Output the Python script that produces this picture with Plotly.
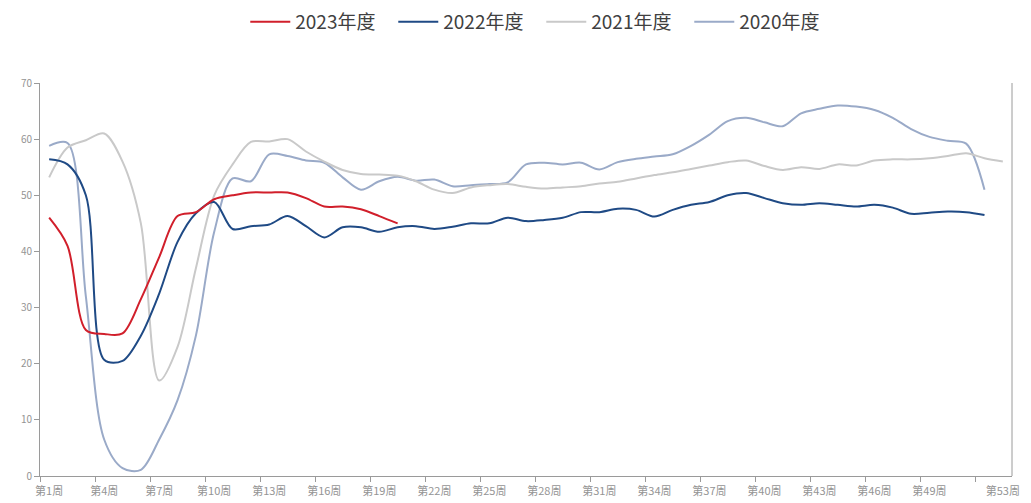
import plotly.graph_objects as go

# Weekly series, weeks 1..53
weeks = list(range(1, 54))

y2023 = [46.0, 41.0, 26.0, 25.3, 25.4, 31.5, 39.0, 46.3, 47.0, 49.3,
         50.0, 50.5, 50.5, 50.5, 49.5, 48.0, 48.0, 47.5, 46.3, 45.0]

y2022 = [56.4, 55.5, 50.0, 20.7, 20.5, 25.0, 32.5, 41.7, 46.8, 48.8,
         44.0, 44.5, 44.8, 46.3, 44.5, 42.5, 44.3, 44.3, 43.5, 44.3,
         44.5, 44.0, 44.4, 45.0, 45.0, 46.0, 45.4, 45.6, 46.0, 47.0,
         47.0, 47.6, 47.4, 46.2, 47.4, 48.3, 48.8, 50.0, 50.4, 49.5,
         48.6, 48.3, 48.6, 48.3, 48.0, 48.3, 47.8, 46.7, 46.9, 47.1,
         47.0, 46.5]

y2021 = [53.2, 58.5, 59.8, 61.0, 56.0, 45.0, 17.0, 23.0, 37.0, 50.0,
         55.5, 59.5, 59.6, 60.0, 57.8, 56.0, 54.5, 53.8, 53.7, 53.5,
         52.5, 51.0, 50.4, 51.4, 51.8, 52.0, 51.5, 51.2, 51.4, 51.6,
         52.1, 52.4, 53.0, 53.6, 54.1, 54.7, 55.3, 55.9, 56.2, 55.2,
         54.5, 55.0, 54.7, 55.5, 55.3, 56.2, 56.4, 56.4, 56.6, 57.0,
         57.5, 56.6, 56.0]

y2020 = [58.8, 59.3, 32.0, 6.5, 1.4, 1.1, 6.5, 13.5, 25.0, 43.5,
         53.0, 52.5, 57.3, 57.0, 56.2, 55.8, 53.2, 51.0, 52.5, 53.3,
         52.6, 52.8, 51.6, 51.8, 52.0, 52.3, 55.5, 55.8, 55.5, 55.8,
         54.6, 55.9, 56.5, 56.9, 57.3, 58.8, 60.8, 63.2, 63.8, 63.0,
         62.3, 64.6, 65.4, 66.0, 65.8, 65.2, 63.8, 61.8, 60.4, 59.7,
         59.2, 51.0]

series = [
    ("2023年度", y2023, "#D11F2B"),
    ("2022年度", y2022, "#1F4A85"),
    ("2021年度", y2021, "#C9C9C9"),
    ("2020年度", y2020, "#9AAAC8"),
]

label_weeks = list(range(1, 50, 3)) + [53]
label_text = [f"第{w}周" for w in label_weeks]
boundary_ticks = [w - 0.5 for w in range(1, 53, 3)]

FONT = "Noto Sans CJK SC"
AXIS_GREY = "#9a9a9a"
LABEL_GREY = "#949494"

fig = go.Figure()
# Draw older years first so the current year sits on top
for name, vals, color in reversed(series):
    fig.add_trace(go.Scatter(
        x=weeks[:len(vals)], y=vals, name=name, mode="lines",
        line=dict(color=color, width=2, shape="spline", smoothing=0.9),
        hoverinfo="x+y+name",
    ))

fig.update_layout(
    width=1031, height=503,
    margin=dict(l=40, r=19, t=83, b=27, autoexpand=False),
    paper_bgcolor="white", plot_bgcolor="white",
    font=dict(family=FONT, color=LABEL_GREY, size=11),
    legend=dict(
        orientation="h", traceorder="reversed",
        xref="container", yref="container",
        x=0.525, xanchor="center", y=1 - 22 / 503, yanchor="middle",
        font=dict(family=FONT, size=19, color="#404040"),
        entrywidth=93, entrywidthmode="pixels",
        itemwidth=40,
    ),
    showlegend=True,
    xaxis=dict(
        range=[0.5, 53.5], showgrid=False, zeroline=False, automargin=False,
        showline=True, linecolor=AXIS_GREY, linewidth=1,
        tickmode="array", tickvals=boundary_ticks,
        ticktext=[""] * len(boundary_ticks),
        ticks="outside", ticklen=5, tickcolor=AXIS_GREY,
    ),
    xaxis2=dict(
        range=[0.5, 53.5], overlaying="x", anchor="y", side="bottom",
        showgrid=False, zeroline=False, showline=False, automargin=False,
        tickmode="array", tickvals=label_weeks, ticktext=label_text,
        ticks="outside", ticklen=5, tickcolor="rgba(0,0,0,0)",
        tickfont=dict(family=FONT, size=11, color=LABEL_GREY),
    ),
    yaxis=dict(
        range=[0, 70], showgrid=False, zeroline=False, automargin=False,
        showline=True, linecolor=AXIS_GREY, linewidth=1,
        tickmode="array", tickvals=list(range(0, 71, 10)),
        ticks="outside", ticklen=5, tickcolor=AXIS_GREY,
        tickfont=dict(family=FONT, size=10, color=LABEL_GREY),
    ),
    shapes=[dict(type="line", xref="paper", yref="paper",
                 x0=1, x1=1, y0=0, y1=1,
                 line=dict(color=AXIS_GREY, width=1))],
)

# Invisible trace so the label axis is rendered
fig.add_trace(go.Scatter(x=[1], y=[None], xaxis="x2", showlegend=False,
                         hoverinfo="skip", mode="lines"))

fig.write_html("out.html")
